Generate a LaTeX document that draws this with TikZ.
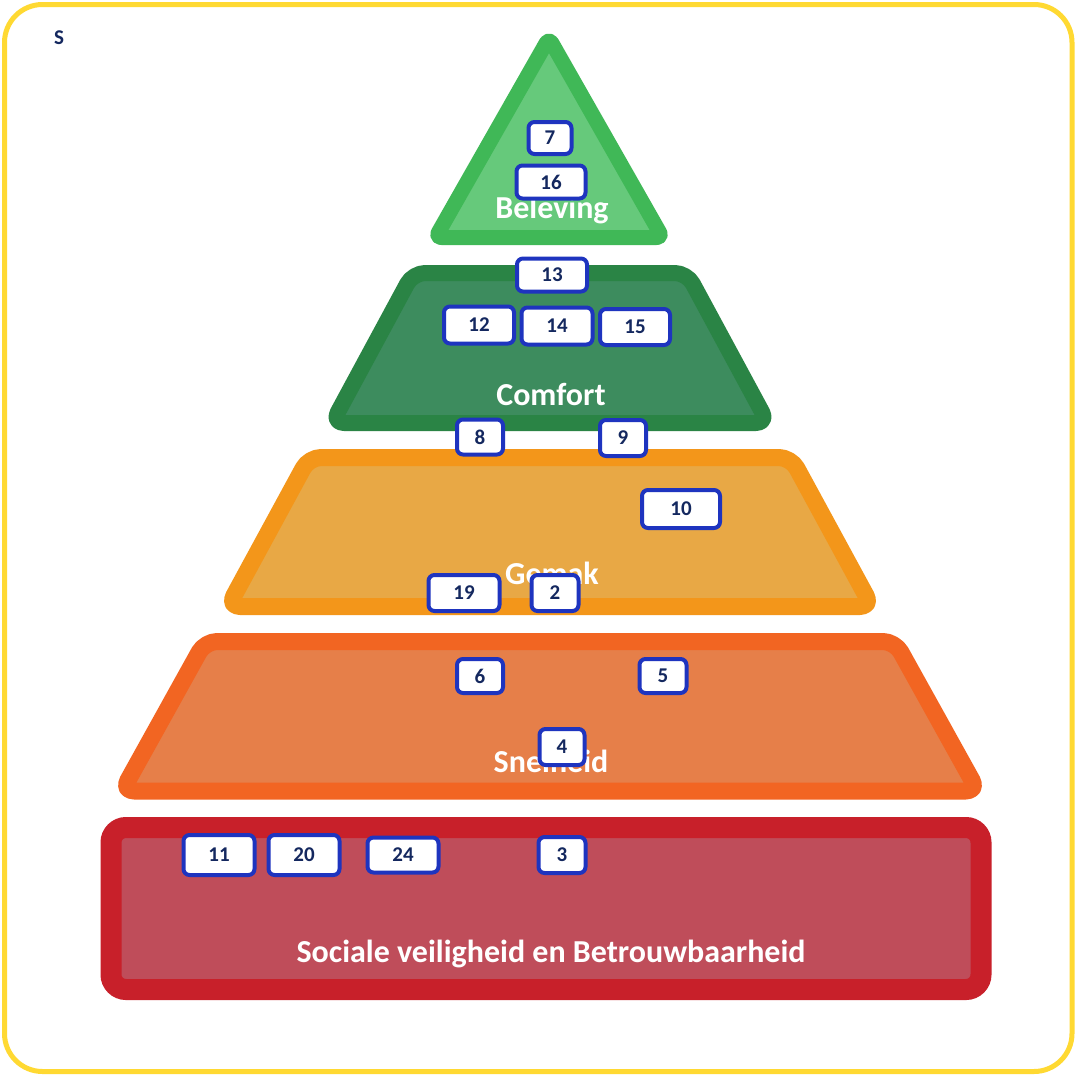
\documentclass[tikz,border=0pt]{standalone}
\usepackage{fontspec}
\setmainfont{Carlito}
\definecolor{frameyellow}{HTML}{FFD932}
\definecolor{boxblue}{HTML}{1E34BF}
\definecolor{navy}{HTML}{14285F}
\definecolor{belS}{HTML}{40B857}
\definecolor{belF}{HTML}{66C97B}
\definecolor{comS}{HTML}{2A8445}
\definecolor{comF}{HTML}{3D8C5E}
\definecolor{gemS}{HTML}{F3961A}
\definecolor{gemF}{HTML}{E8A845}
\definecolor{snS}{HTML}{F26522}
\definecolor{snF}{HTML}{E67F49}
\definecolor{socS}{HTML}{C8202A}
\definecolor{socF}{HTML}{BF4D5A}
\begin{document}
\begin{tikzpicture}[x=1pt,y=-1pt,
  layer/.style={line join=round, rounded corners=12pt},
  lbl/.style={anchor=base, text=white, font=\bfseries\fontsize{32}{34}\selectfont, inner sep=0pt},
  numbox/.style={draw=boxblue, fill=white, line width=4pt, rounded corners=6pt, inner sep=0pt,
     text=navy, font=\bfseries\fontsize{21}{23}\selectfont}]
\useasboundingbox (0,0) rectangle (1077,1076);
\fill[white] (0,0) rectangle (1077,1076);
% outer frame
\draw[frameyellow, line width=5pt, rounded corners=38pt] (4.5,4.5) rectangle (1072,1071.5);
\node[text=navy, font=\bfseries\fontsize{21}{23}\selectfont, inner sep=0pt] (S) at (59,38) {S};
% layers
\draw[layer, rounded corners=6pt, draw=belS, fill=belF, line width=15pt]
  (549,38) -- (662.5,237.5) -- (435.5,237.5) -- cycle;
\draw[layer, draw=comS, fill=comF, line width=16pt]
  (413,273) -- (687,273) -- (768,423) -- (332,423) -- cycle;
\draw[layer, draw=gemS, fill=gemF, line width=17pt]
  (309,457.5) -- (791,457.5) -- (872,606.5) -- (228,606.5) -- cycle;
\draw[layer, draw=snS, fill=snF, line width=17pt]
  (205,641.5) -- (895,641.5) -- (978,791) -- (122,791) -- cycle;
\draw[draw=socS, fill=socF, line width=21pt, rounded corners=15pt]
  (111,827.5) rectangle (981,989.5);
% layer labels
\node[lbl] (beleving) at (552,218) {Beleving};
\node[lbl] (comfort) at (551,405) {Comfort};
\node[lbl] (gemak) at (552,584) {Gemak};
\node[lbl] (snelheid) at (551,772) {Snelheid};
\node[lbl] (sociale) at (551,962) {Sociale veiligheid en Betrouwbaarheid};
% number boxes
\node[numbox, minimum width=43pt, minimum height=32pt] (b7) at (550,138) {7};
\node[numbox, minimum width=69pt, minimum height=33pt] (b16) at (551,182) {16};
\node[numbox, minimum width=70pt, minimum height=33pt] (b13) at (552,275) {13};
\node[numbox, minimum width=70pt, minimum height=37pt] (b12) at (479,325) {12};
\node[numbox, minimum width=71pt, minimum height=37pt] (b14) at (557,326) {14};
\node[numbox, minimum width=70pt, minimum height=36pt] (b15) at (635,327) {15};
\node[numbox, minimum width=46pt, minimum height=35pt] (b8) at (480,437) {8};
\node[numbox, minimum width=46pt, minimum height=36pt] (b9) at (623,438) {9};
\node[numbox, minimum width=78pt, minimum height=38pt] (b10) at (681,509) {10};
\node[numbox, minimum width=71pt, minimum height=36pt] (b19) at (464,593) {19};
\node[numbox, minimum width=47pt, minimum height=36pt] (b2) at (555,593) {2};
\node[numbox, minimum width=46pt, minimum height=34pt] (b6) at (480,676) {6};
\node[numbox, minimum width=47pt, minimum height=34pt] (b5) at (663,676) {5};
\node[numbox, minimum width=45pt, minimum height=36pt] (b4) at (562,747) {4};
\node[numbox, minimum width=71pt, minimum height=40pt] (b11) at (219,855) {11};
\node[numbox, minimum width=71pt, minimum height=40pt] (b20) at (304,855) {20};
\node[numbox, minimum width=71pt, minimum height=35pt] (b24) at (403,855) {24};
\node[numbox, minimum width=47pt, minimum height=36pt] (b3) at (562,855) {3};
\end{tikzpicture}
\end{document}
